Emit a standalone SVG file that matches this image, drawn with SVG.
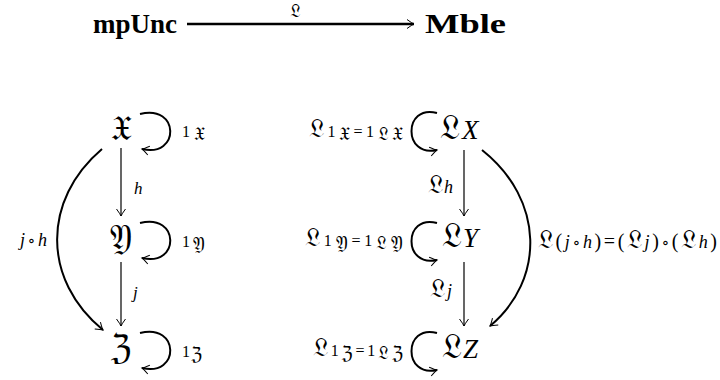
<svg xmlns="http://www.w3.org/2000/svg" width="720" height="380" viewBox="0 0 720 380">
<style>
.bold{font-family:"Liberation Serif","DejaVu Serif",serif;font-weight:bold;font-size:27px;fill:#000}
.frak{font-family:"DejaVu Serif","DejaVu Sans","Noto Sans",serif;font-size:34px;fill:#000}
.it{font-family:"Liberation Serif","DejaVu Serif",serif;font-style:italic;font-size:17px;fill:#000}
.lbl{font-family:"Liberation Serif","DejaVu Serif",serif;font-size:16px;fill:#000}
.fs{font-family:"DejaVu Serif","DejaVu Sans",serif;font-size:26px}
.sub{font-size:18px}
.p{font-size:20px}
.i{font-style:italic;font-size:18px}
.ni{font-family:"Liberation Serif","DejaVu Serif",serif;font-style:italic;font-size:27px}
.edge{fill:none;stroke:#000;stroke-width:1.2}
.thick{fill:none;stroke:#000;stroke-width:2}
.top{fill:none;stroke:#000;stroke-width:2.4}
</style>
<defs>
<marker id="tip" markerUnits="userSpaceOnUse" markerWidth="14" markerHeight="14" viewBox="-10 -7 12 14" refX="0" refY="0" orient="auto">
<path d="M-7,-4.5 Q-2,-0.8 0,0 Q-2,0.8 -7,4.5" fill="none" stroke="#000" stroke-width="1"/>
</marker>
</defs>

<g id="connectors">
  <path class="top" d="M187,24 H414" marker-end="url(#tip)"/>
  <text class="fs" x="295" y="17" text-anchor="middle" style="font-size:18px">𝔏</text>

  <path class="edge" d="M121,148 V216" marker-end="url(#tip)"/>
  <text class="it" x="134" y="194">h</text>
  <path class="edge" d="M121,262 V326" marker-end="url(#tip)"/>
  <text class="it" x="133" y="298">j</text>
  <path class="thick" d="M102,149 C42,200 42,280 103,330" marker-end="url(#tip)"/>
  <text class="lbl" x="20" y="246" textLength="27"><tspan class="i">j</tspan>∘<tspan class="i">h</tspan></text>

  <path class="thick" d="M140,114 C180,104 180,158 142,149" marker-end="url(#tip)"/>
  <text class="lbl" x="182" y="137" textLength="23">1<tspan class="sub fs" dy="3">𝔛</tspan></text>
  <path class="thick" d="M140,223 C180,213 180,267 142,258" marker-end="url(#tip)"/>
  <text class="lbl" x="182" y="247" textLength="23">1<tspan class="sub fs" dy="3">𝔜</tspan></text>
  <path class="thick" d="M140,333 C180,323 180,377 142,368" marker-end="url(#tip)"/>
  <text class="lbl" x="182" y="357" textLength="20">1<tspan class="sub fs" dy="3">ℨ</tspan></text>

  <path class="edge" d="M464,150 V216" marker-end="url(#tip)"/>
  <text class="lbl" x="428" y="193" textLength="25"><tspan class="fs">𝔏</tspan><tspan class="i">h</tspan></text>
  <path class="edge" d="M464,262 V326" marker-end="url(#tip)"/>
  <text class="lbl" x="430" y="297" textLength="22"><tspan class="fs">𝔏</tspan><tspan class="i">j</tspan></text>
  <path class="thick" d="M482,150 C545,200 545,280 490,326" marker-end="url(#tip)"/>
  <text class="lbl" x="538" y="248" textLength="179"><tspan class="fs">𝔏</tspan><tspan class="p">(</tspan><tspan class="i">j</tspan>∘<tspan class="i">h</tspan><tspan class="p">)=(</tspan><tspan class="fs">𝔏</tspan><tspan class="i">j</tspan><tspan class="p">)</tspan>∘<tspan class="p">(</tspan><tspan class="fs">𝔏</tspan><tspan class="i">h</tspan><tspan class="p">)</tspan></text>

  <path class="thick" d="M437,113 C403,104 403,158 437,150" marker-end="url(#tip)"/>
  <text class="lbl" x="309" y="137" textLength="94"><tspan class="fs">𝔏</tspan>1<tspan class="sub fs" dy="3">𝔛</tspan><tspan dy="-3">=1</tspan><tspan class="sub fs" dy="3">𝔏𝔛</tspan></text>
  <path class="thick" d="M437,223 C403,214 403,268 437,260" marker-end="url(#tip)"/>
  <text class="lbl" x="305" y="246" textLength="98"><tspan class="fs">𝔏</tspan>1<tspan class="sub fs" dy="3">𝔜</tspan><tspan dy="-3">=1</tspan><tspan class="sub fs" dy="3">𝔏𝔜</tspan></text>
  <path class="thick" d="M437,333 C403,324 403,378 437,370" marker-end="url(#tip)"/>
  <text class="lbl" x="313" y="356" textLength="90"><tspan class="fs">𝔏</tspan>1<tspan class="sub fs" dy="3">ℨ</tspan><tspan dy="-3">=1</tspan><tspan class="sub fs" dy="3">𝔏ℨ</tspan></text>
</g>

<g id="mpUnc"><text class="bold" x="93" y="33" textLength="84" lengthAdjust="spacingAndGlyphs">mpUnc</text></g>
<g id="Mble"><text class="bold" x="425" y="33" textLength="81" lengthAdjust="spacingAndGlyphs">Mble</text></g>

<g id="X"><text class="frak" x="121" y="140" text-anchor="middle">𝔛</text></g>
<g id="Y"><text class="frak" x="121" y="249" text-anchor="middle">𝔜</text></g>
<g id="Z"><text class="frak" x="121" y="359" text-anchor="middle">ℨ</text></g>

<g id="LX"><text class="frak" x="440" y="139">𝔏<tspan class="ni" x="462">X</tspan></text></g>
<g id="LY"><text class="frak" x="442" y="247">𝔏<tspan class="ni" x="463">Y</tspan></text></g>
<g id="LZ"><text class="frak" x="442" y="358">𝔏<tspan class="ni" x="463">Z</tspan></text></g>
</svg>
